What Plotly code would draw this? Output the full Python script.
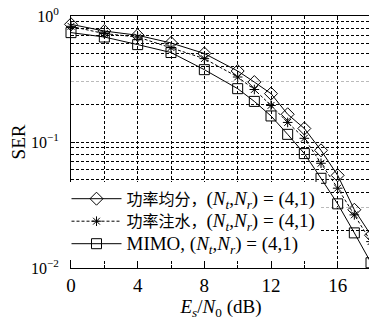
import plotly.graph_objects as go

# ---- data ----
snr_db = [0, 2, 4, 6, 8, 10, 11, 12, 13, 14, 15, 16, 17, 18]
ser_equal = [0.859, 0.760, 0.703, 0.611, 0.504, 0.366, 0.299, 0.242, 0.166, 0.128, 0.0859, 0.0544, 0.0290, 0.0182]
ser_water = [0.828, 0.725, 0.681, 0.561, 0.459, 0.328, 0.261, 0.195, 0.143, 0.107, 0.0678, 0.0430, 0.0264, 0.0162]
ser_mimo = [0.738, 0.681, 0.593, 0.513, 0.375, 0.265, 0.210, 0.161, 0.115, 0.0809, 0.0515, 0.0323, 0.0190, 0.0110]

math = ('<span style="font-size:19px">(<i>N</i><sub><i>t</i></sub>,'
        '<i>N</i><sub><i>r</i></sub>) = (4,1)</span>')
names = [
    '<span style="font-size:16px">功率均分，</span>' + math,
    '<span style="font-size:16px">功率注水，</span>' + math,
    '<span style="font-size:19px">MIMO, </span>' + math,
]

x_major = [0, 4, 8, 12, 16]
y_major = [1, 0.1, 0.01]
y_major_text = ["10<sup>0</sup>", "10<sup>−1</sup>", "10<sup>−2</sup>"]
y_minor = [0.02, 0.04, 0.05, 0.06, 0.07, 0.08, 0.09, 0.2, 0.4, 0.5, 0.6, 0.7, 0.8, 0.9]
y_light = [0.03, 0.3]

FONT = "Liberation Serif, DejaVu Serif, Noto Sans CJK SC, serif"

fig = go.Figure()
fig.add_trace(go.Scatter(
    x=snr_db, y=ser_equal, name=names[0], mode="lines+markers", cliponaxis=False,
    line=dict(color="black", width=1),
    marker=dict(symbol="diamond-open", size=10, color="black", line=dict(width=1)),
))
fig.add_trace(go.Scatter(
    x=snr_db, y=ser_water, name=names[1], mode="lines+markers", cliponaxis=False,
    line=dict(color="black", width=1, dash="3px,2px"),
    marker=dict(symbol="asterisk-open", size=8, color="black", line=dict(width=1, color="black")),
))
fig.add_trace(go.Scatter(
    x=snr_db, y=ser_mimo, name=names[2], mode="lines+markers", cliponaxis=False,
    line=dict(color="black", width=1),
    marker=dict(symbol="square-open", size=10, color="black", line=dict(width=1)),
))
# invisible helper trace for the light grid axis
fig.add_trace(go.Scatter(x=[snr_db[0]], y=[ser_equal[0]], yaxis="y2", mode="markers",
                         marker=dict(opacity=0), showlegend=False, hoverinfo="skip"))

grid_dash = "3px,2px"
# page body has an 8px default margin, so the figure is 8px smaller
fig.update_layout(
    width=369, height=319,
    margin=dict(l=63, r=6, t=8, b=59),
    paper_bgcolor="white", plot_bgcolor="white",
    font=dict(family=FONT, size=18, color="black"),
    showlegend=True,
    legend=dict(
        x=-0.015, y=0.03, xanchor="left", yanchor="bottom",
        bgcolor="white", borderwidth=0,
        font=dict(family=FONT, size=15, color="black"),
        itemwidth=50, tracegroupgap=0,
        traceorder="normal",
    ),
    xaxis=dict(
        range=[0, 18], tickmode="array", tickvals=x_major,
        ticks="inside", ticklen=4, tickcolor="black",
        showline=True, linecolor="black", linewidth=1, mirror="ticks",
        showgrid=True, gridcolor="black", gridwidth=1, griddash=grid_dash,
        zeroline=False, automargin=False, ticklabeloverflow="allow",
        minor=dict(dtick=2, ticks="inside", ticklen=3, tickcolor="black",
                   showgrid=True, gridcolor="black", gridwidth=1, griddash=grid_dash),
        title=dict(text="<i>E</i><sub><i>s</i></sub>/<i>N</i><sub>0</sub> (dB)",
                   font=dict(size=19), standoff=2),
        tickfont=dict(size=19),
    ),
    yaxis=dict(
        type="log", range=[-2, 0],
        tickmode="array", tickvals=y_major, ticktext=y_major_text,
        ticks="inside", ticklen=4, tickcolor="black", ticklabelstandoff=8,
        showline=True, linecolor="black", linewidth=1, mirror="ticks",
        showgrid=True, gridcolor="black", gridwidth=1, griddash=grid_dash,
        zeroline=False, automargin=False, ticklabeloverflow="allow",
        minor=dict(tickmode="array", tickvals=y_minor, ticks="inside", ticklen=3,
                   tickcolor="black", showgrid=True, gridcolor="black",
                   gridwidth=1, griddash=grid_dash),
        title=dict(text="SER", font=dict(size=19), standoff=2),
        tickfont=dict(size=16),
    ),
    yaxis2=dict(
        type="log", range=[-2, 0], overlaying="y", side="left",
        tickmode="array", tickvals=y_light, showticklabels=False, ticks="",
        showgrid=True, gridcolor="#bbbbbb", gridwidth=1, griddash=grid_dash,
        zeroline=False, showline=False, automargin=False,
    ),
)

fig.write_html("out.html")
